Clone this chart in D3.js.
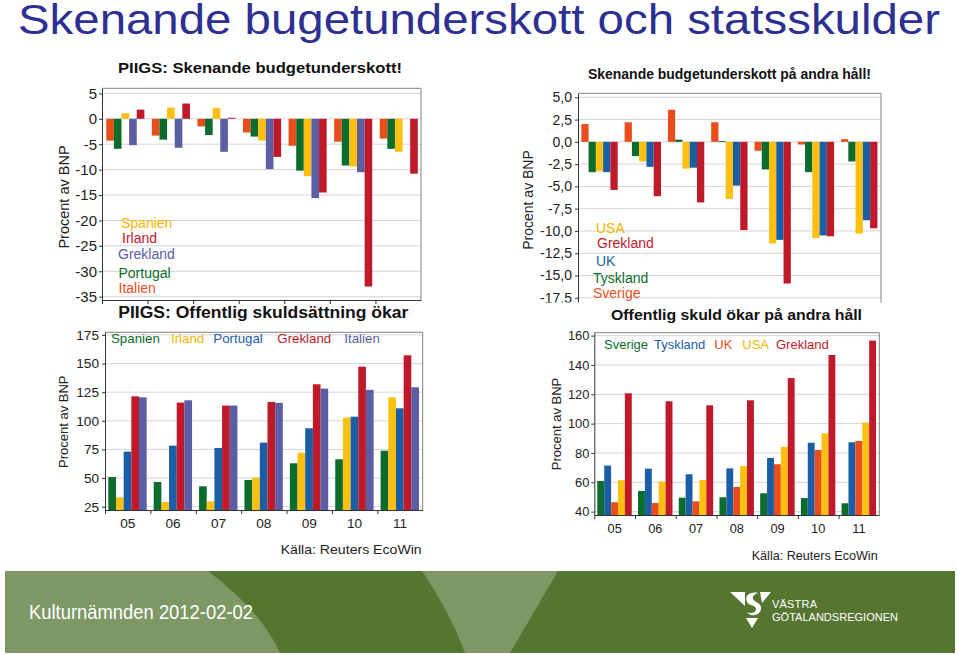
<!DOCTYPE html>
<html lang="sv">
<head>
<meta charset="UTF-8">
<script src="https://d3js.org/d3.v7.min.js"></script>
<title>Skenande bugetunderskott och statsskulder</title>
<style>
  body { margin: 0; background: #fff; }
  text { font-family: "Liberation Sans", Arial, sans-serif; }
</style>
</head>
<body>
<script>
var years = ["05", "06", "07", "08", "09", "10", "11"];

// PIIGS: budgetunderskott, procent av BNP
var defItalien  = [-4.3, -3.3, -1.5, -2.7, -5.3, -4.5, -3.9];
var defPortugal = [-5.9, -4.1, -3.2, -3.5, -10.2, -9.2, -5.9];
var defSpanien  = [1.1, 2.2, 2.1, -4.3, -11.3, -9.4, -6.5];
var defGrekland = [-5.2, -5.7, -6.5, -9.9, -15.6, -10.5, null];
var defIrland   = [1.8, 3.0, 0.2, -7.5, -14.5, -33.0, -10.8];

// budgetunderskott på andra håll
var def2Sverige  = [2.0, 2.2, 3.6, 2.2, -1.0, -0.3, 0.3];
var def2Tyskland = [-3.4, -1.6, 0.25, 0.1, -3.1, -3.4, -2.2];
var def2USA      = [-3.3, -2.2, -3.0, -6.4, -11.4, -10.8, -10.3];
var def2UK       = [-3.4, -2.8, -2.9, -4.9, -11.0, -10.5, -8.8];
var def2Grekland = [-5.4, -6.1, -6.8, -9.9, -15.9, -10.6, -9.7];

// PIIGS: offentlig skuld
var debtSpanien  = [50.9, 46.6, 42.8, 48.3, 62.9, 66.4, 73.9];
var debtIrland   = [33.2, 29.1, 29.7, 50.3, 72.2, 102.8, 120.5];
var debtPortugal = [73.1, 78.3, 76.3, 80.9, 93.5, 103.6, 110.9];
var debtGrekland = [121.4, 115.9, 113.3, 116.5, 131.9, 147.3, 157.2];
var debtItalien  = [120.5, 117.9, 113.3, 115.6, 128.1, 127.0, 129.3];

// offentlig skuld på andra håll
var debt2Sverige  = [60.9, 54.1, 49.5, 49.8, 52.5, 49.3, 45.7];
var debt2Tyskland = [71.4, 69.3, 65.5, 69.5, 76.6, 87.0, 87.3];
var debt2UK       = [46.4, 45.9, 47.0, 56.8, 72.3, 82.0, 88.2];
var debt2USA      = [61.4, 60.5, 61.6, 71.1, 84.1, 93.4, 100.7];
var debt2Grekland = [120.7, 115.2, 112.5, 115.9, 131.1, 146.8, 156.6];

var ticksDef   = [5, 0, -5, -10, -15, -20, -25, -30, -35];
var ticksDef2  = [5, 2.5, 0, -2.5, -5, -7.5, -10, -12.5, -15, -17.5];
var ticksDebt  = [175, 150, 125, 100, 75, 50, 25];
var ticksDebt2 = [160, 140, 120, 100, 80, 60, 40];

var cOrange = "#e84e1b", cGreen = "#0c6c2c", cYellow = "#fdc010",
    cPurple = "#5b5da5", cRed = "#be1a2a", cBlue = "#1a5ea6";

var sv = d3.formatLocale({ decimal: ",", thousands: " ", grouping: [3], currency: ["", " kr"], minus: "-" });

var svg = d3.select("body").append("svg")
  .attr("width", 959).attr("height", 655);
svg.append("rect").attr("width", 959).attr("height", 655).attr("fill", "#fff");

// main heading
svg.append("text")
  .attr("x", 18).attr("y", 34)
  .attr("font-size", 42.5)
  .attr("fill", "#2d3091")
  .attr("textLength", 922).attr("lengthAdjust", "spacingAndGlyphs")
  .text("Skenande bugetunderskott och statsskulder");

function drawChart(o) {
  var g = svg.append("g");
  if (o.clipY) {
    var id = "clip" + Math.round(o.left);
    svg.append("clipPath").attr("id", id).append("rect")
      .attr("x", 0).attr("y", 0).attr("width", 959).attr("height", o.clipY);
    g.attr("clip-path", "url(#" + id + ")");
  }
  var x = d3.scaleBand().domain(years).range([o.left, o.right]);
  var xi = d3.scaleBand().domain(o.series.map(function (s) { return s.name; }))
    .range([x.bandwidth() * o.inner[0], x.bandwidth() * o.inner[1]]);
  var y = d3.scaleLinear().domain(o.domain).range([o.bottom, o.top]);

  // grid
  g.selectAll(".grid").data(o.ticks).enter().append("line")
    .attr("x1", o.left).attr("x2", o.right)
    .attr("y1", function (d) { return y(d); }).attr("y2", function (d) { return y(d); })
    .attr("stroke", "#d4d4d4").attr("stroke-width", 1);

  // bars
  o.series.forEach(function (s) {
    var pts = years.map(function (yr, i) { return { yr: yr, v: s.values[i] }; })
      .filter(function (d) { return d.v != null; });
    g.selectAll(null).data(pts).enter().append("rect")
      .attr("x", function (d) { return x(d.yr) + xi(s.name); })
      .attr("width", xi.bandwidth())
      .attr("y", function (d) { return Math.min(y(d.v), y(o.base)); })
      .attr("height", function (d) { return Math.abs(y(d.v) - y(o.base)); })
      .attr("fill", s.color);
  });

  // frame top / right
  g.append("line").attr("x1", o.left).attr("x2", o.right).attr("y1", o.top).attr("y2", o.top)
    .attr("stroke", "#808080");
  g.append("line").attr("x1", o.right).attr("x2", o.right).attr("y1", o.top).attr("y2", o.bottom)
    .attr("stroke", "#808080");

  // y axis
  var ya = g.append("g").attr("transform", "translate(" + o.left + ",0)")
    .call(d3.axisLeft(y).tickValues(o.ticks).tickSize(3).tickSizeOuter(0)
      .tickPadding(o.pad).tickFormat(o.fmt));
  ya.selectAll("text").attr("font-size", o.tickFont).attr("fill", "#222")
    .attr("font-family", "Liberation Sans, Arial, sans-serif");
  ya.select(".domain").attr("stroke", "#333");
  ya.selectAll(".tick line").attr("stroke", "#333");

  // x axis
  if (o.xAxis) {
    var xb = d3.scaleLinear().domain([0, years.length]).range([o.left, o.right]);
    var xa = g.append("g").attr("transform", "translate(0," + o.bottom + ")")
      .call(d3.axisBottom(xb).tickValues(d3.range(0, years.length)).tickSize(4)
        .tickSizeOuter(0).tickFormat(""));
    xa.select(".domain").attr("stroke", "#333");
    xa.selectAll(".tick line").attr("stroke", "#333");
    if (o.xLabels) {
      g.selectAll(".xl").data(years).enter().append("text")
        .attr("x", function (d) { return x(d) + x.bandwidth() / 2; })
        .attr("y", o.xLabelY)
        .attr("text-anchor", "middle")
        .attr("font-size", o.tickFont).attr("fill", "#222")
        .text(function (d) { return d; });
    }
  }

  // axis title
  svg.append("text")
    .attr("transform", "translate(" + o.yLab[0] + "," + o.yLab[1] + ") rotate(-90)")
    .attr("text-anchor", "middle")
    .attr("font-size", o.yLab[2]).attr("fill", "#222")
    .text("Procent av BNP");

  // chart title
  svg.append("text")
    .attr("x", o.title[0]).attr("y", o.title[1])
    .attr("font-size", o.title[2]).attr("font-weight", "bold").attr("fill", "#111")
    .attr("textLength", o.title[3]).attr("lengthAdjust", "spacingAndGlyphs")
    .text(o.title[4]);

  // legend
  o.legend.forEach(function (l) {
    svg.append("text").attr("x", l[1]).attr("y", l[2])
      .attr("font-size", o.legFont).attr("fill", l[3]).text(l[0]);
  });

  if (o.source) {
    svg.append("text").attr("x", o.source[0]).attr("y", o.source[1])
      .attr("font-size", o.source[2]).attr("fill", "#222")
      .attr("textLength", o.source[3]).attr("lengthAdjust", "spacingAndGlyphs")
      .text("Källa: Reuters EcoWin");
  }
}

// top left
drawChart({
  left: 102, right: 421, top: 88.3, bottom: 300,
  domain: [-35.65, 6.0], base: 0, ticks: ticksDef, fmt: sv.format("d"),
  tickFont: 15, pad: 2, inner: [0.094, 0.93], xAxis: true, xLabels: false,
  series: [
    { name: "Italien", values: defItalien, color: cOrange },
    { name: "Portugal", values: defPortugal, color: cGreen },
    { name: "Spanien", values: defSpanien, color: cYellow },
    { name: "Grekland", values: defGrekland, color: cPurple },
    { name: "Irland", values: defIrland, color: cRed }
  ],
  yLab: [68.5, 197, 14.5],
  title: [118, 73, 15, 284, "PIIGS: Skenande budgetunderskott!"],
  legFont: 14,
  legend: [["Spanien", 121, 228, "#f5b400"], ["Irland", 122, 242.5, cRed],
           ["Grekland", 118, 259, cPurple], ["Portugal", 118.5, 277.5, cGreen],
           ["Italien", 118.5, 292.5, cOrange]]
});

// top right
drawChart({
  left: 578, right: 881, top: 93.3, bottom: 304,
  domain: [-18.2, 5.45], base: 0, ticks: ticksDef2, fmt: sv.format(".1f"),
  tickFont: 14, pad: 3, inner: [0.077, 0.917], xAxis: false, clipY: 302.5,
  series: [
    { name: "Sverige", values: def2Sverige, color: cOrange },
    { name: "Tyskland", values: def2Tyskland, color: cGreen },
    { name: "USA", values: def2USA, color: cYellow },
    { name: "UK", values: def2UK, color: cBlue },
    { name: "Grekland", values: def2Grekland, color: cRed }
  ],
  yLab: [533, 200, 14],
  title: [588, 79, 14, 283, "Skenande budgetunderskott på andra håll!"],
  legFont: 14,
  legend: [["USA", 596, 232.5, "#f5b400"], ["Grekland", 597, 248, cRed],
           ["UK", 596, 265.5, cBlue], ["Tyskland", 593, 282.5, cGreen],
           ["Sverige", 593, 298, cOrange]]
});

// bottom left
drawChart({
  left: 105, right: 422.7, top: 332.3, bottom: 510,
  domain: [22.1, 177.3], base: 22.1, ticks: ticksDebt, fmt: sv.format("d"),
  tickFont: 13.6, pad: 3, inner: [0.073, 0.918], xAxis: true, xLabels: true, xLabelY: 527.7,
  series: [
    { name: "Spanien", values: debtSpanien, color: cGreen },
    { name: "Irland", values: debtIrland, color: cYellow },
    { name: "Portugal", values: debtPortugal, color: cBlue },
    { name: "Grekland", values: debtGrekland, color: cRed },
    { name: "Italien", values: debtItalien, color: cPurple }
  ],
  yLab: [67.5, 421.7, 13],
  title: [118.3, 318.3, 16, 290, "PIIGS: Offentlig skuldsättning ökar"],
  legFont: 13.3,
  legend: [["Spanien", 111, 342.5, cGreen], ["Irland", 171, 342.5, "#f5b400"],
           ["Portugal", 213.3, 342.5, cBlue], ["Grekland", 277.3, 342.5, cRed],
           ["Italien", 344.3, 342.5, cPurple]],
  source: [280.7, 554, 13.5, 141]
});

// bottom right
drawChart({
  left: 594.3, right: 879.3, top: 332.7, bottom: 515,
  domain: [37.7, 162], base: 37.7, ticks: ticksDebt2, fmt: sv.format("d"),
  tickFont: 12.8, pad: 2, inner: [0.074, 0.92], xAxis: true, xLabels: true, xLabelY: 533.3,
  series: [
    { name: "Sverige", values: debt2Sverige, color: cGreen },
    { name: "Tyskland", values: debt2Tyskland, color: cBlue },
    { name: "UK", values: debt2UK, color: cOrange },
    { name: "USA", values: debt2USA, color: cYellow },
    { name: "Grekland", values: debt2Grekland, color: cRed }
  ],
  yLab: [561, 424, 13],
  title: [611, 320, 15, 251, "Offentlig skuld ökar på andra håll"],
  legFont: 13,
  legend: [["Sverige", 604, 349.3, cGreen], ["Tyskland", 654, 349.3, cBlue],
           ["UK", 714.3, 349.3, cOrange], ["USA", 742.3, 349.3, "#f5b400"],
           ["Grekland", 776, 349.3, cRed]],
  source: [751.7, 560, 13, 126]
});

// footer band
var light = "#7e9865", dark = "#557531";
var foot = svg.append("g");
foot.append("rect").attr("x", 5).attr("y", 571).attr("width", 950).attr("height", 82).attr("fill", light);
foot.append("path").attr("fill", dark)
  .attr("d", "M208,571 Q262,612 280,653 L465,653 Q450,612 422,571 Z");
foot.append("path").attr("fill", dark)
  .attr("d", "M558,571 L510,653 L955,653 L955,571 Z");
foot.append("text").attr("x", 29).attr("y", 619).attr("font-size", 21).attr("fill", "#fff")
  .attr("textLength", 224).attr("lengthAdjust", "spacingAndGlyphs")
  .text("Kulturnämnden 2012-02-02");

// logo
var logo = foot.append("g").attr("fill", "#fff");
logo.append("path").attr("d", "M730,592 L745,592 L745,606 Z");
logo.append("path").attr("d", "M760,592 L771,592 L762,603 Z");
logo.append("path").attr("d", "M746,618 L758,618 L752,628 Z");
logo.append("path")
  .attr("d", "M758,593 C750,591 744,596 747,602 C749,606 756,605 756,609 C756,613 750,614 747,612 C750,617 760,616 761,609 C762,603 754,602 753,599 C752,596 755,594 758,593 Z");
logo.append("text").attr("x", 772).attr("y", 608).attr("font-size", 11)
  .attr("font-family", "DejaVu Sans, sans-serif").attr("letter-spacing", 1)
  .attr("textLength", 46).text("VÄSTRA");
logo.append("text").attr("x", 772).attr("y", 620.5).attr("font-size", 11)
  .attr("font-family", "DejaVu Sans, sans-serif")
  .attr("textLength", 126).attr("lengthAdjust", "spacingAndGlyphs")
  .text("GÖTALANDSREGIONEN");
</script>
</body>
</html>
